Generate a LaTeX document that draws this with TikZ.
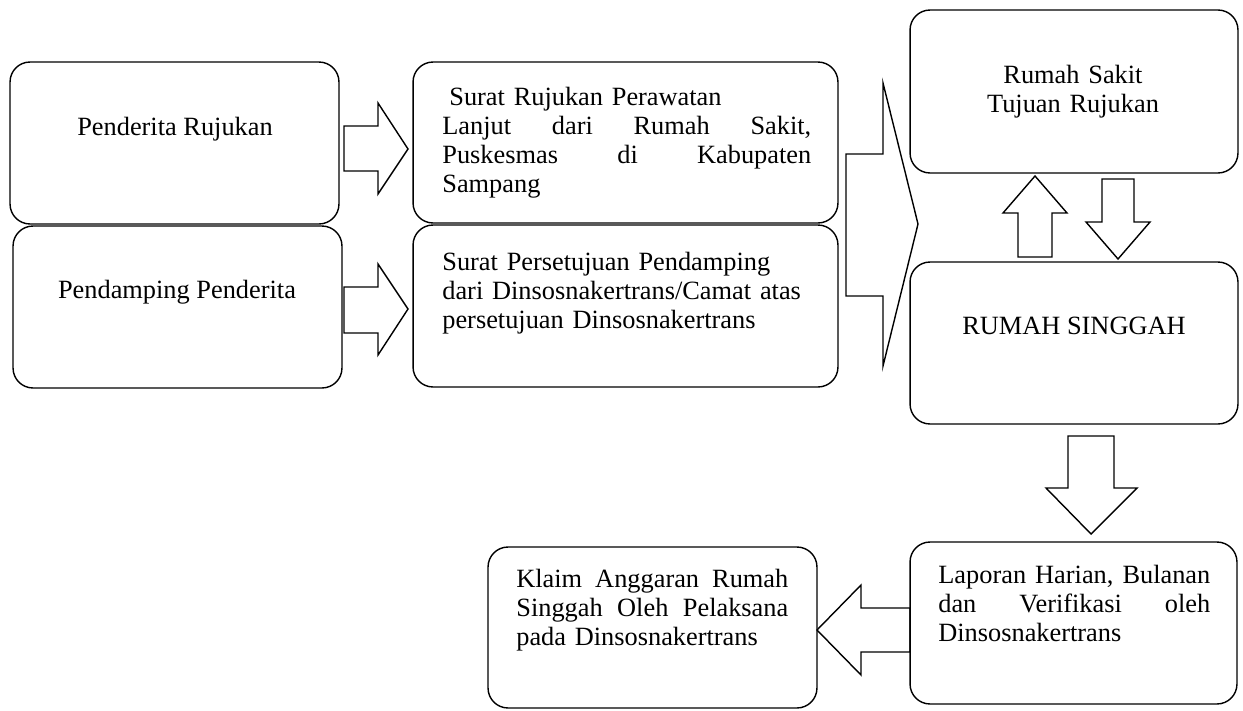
\documentclass[tikz,border=0pt]{standalone}
\usepackage{fontspec}
\setmainfont{Liberation Serif}
\usepackage{tikz}
\usetikzlibrary{positioning}

\begin{document}
\begin{tikzpicture}[x=0.02cm, y=-0.02cm,
    kotak/.style={draw, line width=0.8pt, rounded corners=0.4cm, rectangle, inner sep=0pt},
    teks/.style={inner sep=0pt, font=\fontsize{15}{16.6}\selectfont},
    panah/.style={draw, line width=0.8pt, line join=miter}]
    \useasboundingbox (0,0) rectangle (1243,710);

    % kotak kiri
    \node[kotak, minimum width=6.58cm, minimum height=3.24cm] (rujukan) at (174.5,143) {};
    \node[kotak, minimum width=6.58cm, minimum height=3.24cm] (pendamping) at (177.5,307) {};
    \node[teks, anchor=base] (trujukan) at (175,135) {Penderita Rujukan};
    \node[teks, anchor=base] (tpendamping) at (177,298) {Pendamping Penderita};

    % kotak surat
    \node[kotak, minimum width=8.5cm, minimum height=3.22cm] (suratrujuk) at (625.5,142.5) {};
    \node[kotak, minimum width=8.5cm, minimum height=3.24cm] (suratsetuju) at (625.5,306) {};
    \node[teks, anchor=base west, text width=7.38cm, align=left] (tsuratrujuk) at (442,105)
        {\hspace*{0.14cm}Surat Rujukan Perawatan\\
         Lanjut\hfill dari\hfill Rumah\hfill Sakit,\\
         Puskesmas\hfill di\hfill Kabupaten\\
         Sampang};
    \node[teks, anchor=base west, text width=7.38cm, align=left] (tsuratsetuju) at (442,270)
        {Surat Persetujuan Pendamping\\
         dari Dinsosnakertrans/Camat atas\\
         persetujuan Dinsosnakertrans};

    % kotak kanan
    \node[kotak, minimum width=6.56cm, minimum height=3.26cm] (rstujuan) at (1074,91.5) {};
    \node[kotak, minimum width=6.56cm, minimum height=3.24cm] (singgah) at (1074,343) {};
    \node[kotak, minimum width=6.54cm, minimum height=3.24cm] (laporan) at (1073.5,623) {};
    \node[kotak, minimum width=6.58cm, minimum height=3.22cm] (klaim) at (652.5,627.5) {};
    \node[teks, anchor=base, text width=6cm, align=center] (trstujuan) at (1073,83)
        {Rumah Sakit\\ Tujuan Rujukan};
    \node[teks, anchor=base] (tsinggah) at (1074,334) {RUMAH SINGGAH};
    \node[teks, anchor=base west, text width=5.44cm, align=left] (tlaporan) at (938,583)
        {Laporan\hfill Harian,\hfill Bulanan\\
         dan\hfill Verifikasi\hfill oleh\\
         Dinsosnakertrans};
    \node[teks, anchor=base west, text width=5.44cm, align=left] (tklaim) at (516,587)
        {Klaim\hfill Anggaran\hfill Rumah\\
         Singgah\hfill Oleh\hfill Pelaksana\\
         pada Dinsosnakertrans};

    % panah blok
    \draw[panah] (344,126) -- (378,126) -- (378,103) -- (408,149) -- (378,194) -- (378,171) -- (344,171) -- cycle;
    \draw[panah] (344,287) -- (378,287) -- (378,264) -- (408,309) -- (378,355) -- (378,333) -- (344,333) -- cycle;
    \draw[panah] (846,154) -- (883,154) -- (883,83) -- (918,224) -- (883,366) -- (883,296) -- (846,296) -- cycle;
    \draw[panah] (1018,257) -- (1018,213) -- (1003,213) -- (1035,176) -- (1067,213) -- (1052,213) -- (1052,257) -- cycle;
    \draw[panah] (1102,179) -- (1102,222) -- (1086,222) -- (1118,259) -- (1150,222) -- (1134,222) -- (1134,179) -- cycle;
    \draw[panah] (1068,436) -- (1068,488) -- (1046,488) -- (1091,534) -- (1137,488) -- (1114,488) -- (1114,436) -- cycle;
    \draw[panah] (910,608) -- (861,608) -- (861,585) -- (817,630) -- (861,675) -- (861,652) -- (910,652) -- cycle;
\end{tikzpicture}
\end{document}
